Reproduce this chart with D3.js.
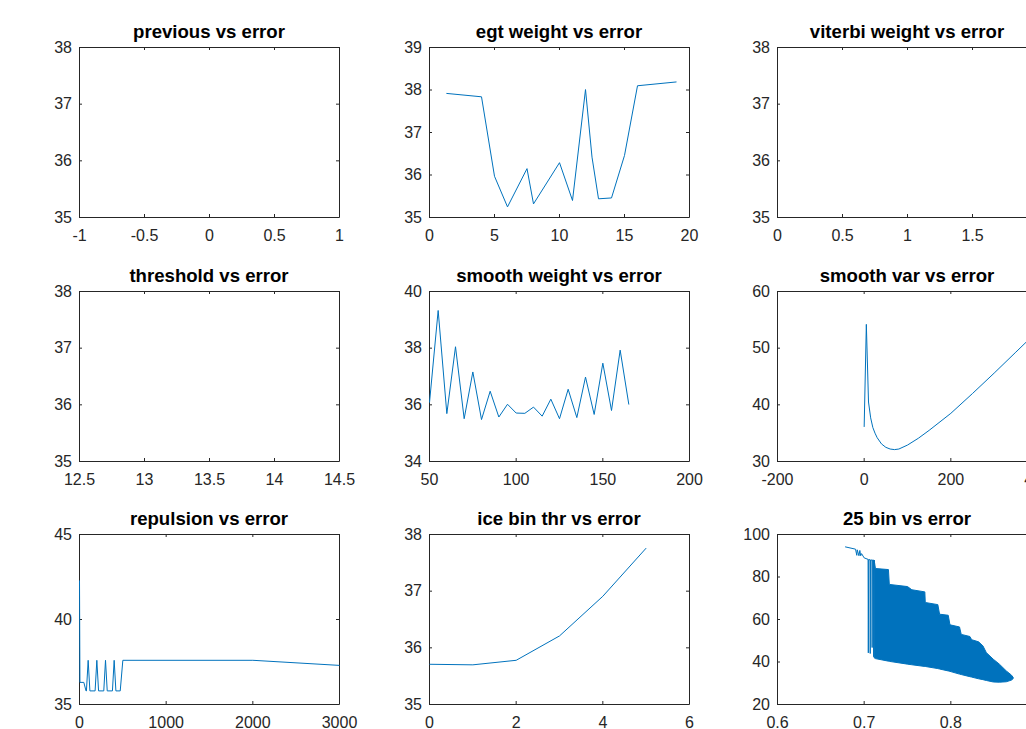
<!DOCTYPE html>
<html>
<head>
<meta charset="utf-8">
<script src="https://cdn.jsdelivr.net/npm/d3@7"></script>
<style>
    body { margin: 0; background: #fff; overflow: hidden; }
    svg { display: block; font-family: "Liberation Sans", Arial, Helvetica, sans-serif; }
</style>
</head>
<body>
<div id="fig"></div>
<script>
// panel titles, row by row
var titles = ["previous vs error", "egt weight vs error", "viterbi weight vs error",
    "threshold vs error", "smooth weight vs error", "smooth var vs error",
    "repulsion vs error", "ice bin thr vs error", "25 bin vs error"];

// tick values per panel
var prevXTicks = [-1, -0.5, 0, 0.5, 1];
var egtXTicks = [0, 5, 10, 15, 20];
var vitXTicks = [0, 0.5, 1, 1.5, 2];
var thrXTicks = [12.5, 13, 13.5, 14, 14.5];
var swXTicks = [50, 100, 150, 200];
var svXTicks = [-200, 0, 200, 400];
var repXTicks = [0, 1000, 2000, 3000];
var iceXTicks = [0, 2, 4, 6];
var binXTicks = [0.6, 0.7, 0.8, 0.9];

var ticks35to38 = [35, 36, 37, 38];
var egtYTicks = [35, 36, 37, 38, 39];
var swYTicks = [34, 36, 38, 40];
var svYTicks = [30, 40, 50, 60];
var repYTicks = [35, 40, 45];
var binYTicks = [20, 40, 60, 80, 100];

// egt weight
var egtX = [1.3, 4, 5, 6, 7.5, 8, 10, 11, 12, 12.5, 13, 14, 15, 16, 19];
var egtY = [37.92, 37.84, 35.97, 35.25, 36.15, 35.32, 36.29, 35.40, 38.01, 36.42, 35.44, 35.46, 36.46, 38.10, 38.19];

// smooth weight
var swX = [50, 55, 60, 65, 70, 75, 80, 85, 90, 95, 100, 105, 110, 115, 120, 125, 130, 135, 140, 145, 150, 155, 160, 165];
var swY = [36.08, 39.33, 35.69, 38.05, 35.51, 37.16, 35.48, 36.48, 35.57, 36.02, 35.71, 35.70, 35.92, 35.60, 36.20, 35.51, 36.55, 35.55, 36.98, 35.66, 37.47, 35.80, 37.93, 36.01];

// smooth var
var svX = [0, 5, 10, 15, 20, 25, 30, 40, 50, 60, 70, 80, 100, 125, 150, 175, 200, 250, 300, 350, 400];
var svY = [36.1, 54.2, 40.5, 37.7, 36.0, 35.0, 34.2, 33.1, 32.5, 32.2, 32.1, 32.2, 32.9, 34.1, 35.5, 37.0, 38.5, 42.0, 45.6, 49.3, 53.0];

// repulsion
var repX = [0, 5, 50, 75, 80, 100, 120, 180, 200, 220, 280, 300, 320, 380, 400, 420, 470, 500, 2000, 3000];
var repY = [42.3, 36.3, 36.3, 35.8, 35.8, 37.6, 35.8, 35.8, 37.6, 35.8, 35.8, 37.6, 35.8, 35.8, 37.6, 35.8, 35.8, 37.6, 37.6, 37.3];

// ice bin thr
var iceX = [0, 1, 2, 3, 4, 5];
var iceY = [35.71, 35.70, 35.78, 36.21, 36.91, 37.76];

// 25 bin: leading trace, then the dense band (top / bottom envelope)
var binLeadX = [0.678, 0.690, 0.6915, 0.692, 0.694, 0.695, 0.696, 0.697, 0.700, 0.7045, 0.7048, 0.7052, 0.7068, 0.7070, 0.7073, 0.7090, 0.7092, 0.7095, 0.7108, 0.7110, 0.7115];
var binLeadY = [94.2, 93.1, 90.2, 92.8, 90.0, 92.5, 90.0, 91.0, 89.0, 88.3, 44.3, 88.2, 88.1, 44.0, 88.0, 88.0, 46.8, 88.0, 88.0, 42.5, 88.0];
var binX = [0.7115, 0.713, 0.728, 0.729, 0.750, 0.755, 0.770, 0.7705, 0.785, 0.787, 0.797, 0.799, 0.810, 0.812, 0.822, 0.824, 0.832, 0.837, 0.841, 0.849, 0.856, 0.864, 0.870, 0.872];
var binTop = [88, 84, 83.5, 76.5, 75.5, 74, 73, 68, 67, 62.5, 62, 57.5, 56.5, 53, 52, 50.5, 49.5, 47.6, 44.4, 41.3, 39, 35.8, 33.8, 32.7];
var binBottom = [42, 41.6, 40.4, 40.3, 39, 38.7, 37.9, 37.9, 36.9, 36.7, 35.8, 35.6, 34.3, 34.1, 33.1, 32.9, 32.1, 31.7, 31.3, 30.6, 30.5, 30.7, 31.5, 32.2];

var lineColor = "#0072BD";
var axisColor = "#262626";

var width = 1026;
var height = 729;
var colLeft = [79, 429, 777];
var rowTop = [47, 291, 534];
var plotW = 260;
var plotH = 170;

var svg = d3.select('#fig')
    .append('svg')
    .attr('width', width)
    .attr('height', height);

svg.append('rect').attr('width', width).attr('height', height).attr('fill', '#fff');

function drawLine(g, x, y, xs, ys) {
    var pts = xs.map((d, i) => [d, ys[i]]);
    g.append('path')
        .datum(pts)
        .attr('fill', 'none')
        .attr('stroke', lineColor)
        .attr('stroke-width', 1)
        .attr('d', d3.line().x(d => x(d[0])).y(d => y(d[1])));
}

var panels = [
    { xDomain: [-1, 1], yDomain: [35, 38], xTicks: prevXTicks, yTicks: ticks35to38 },
    { xDomain: [0, 20], yDomain: [35, 39], xTicks: egtXTicks, yTicks: egtYTicks,
        draw: (g, x, y) => drawLine(g, x, y, egtX, egtY) },
    { xDomain: [0, 2], yDomain: [35, 38], xTicks: vitXTicks, yTicks: ticks35to38 },
    { xDomain: [12.5, 14.5], yDomain: [35, 38], xTicks: thrXTicks, yTicks: ticks35to38 },
    { xDomain: [50, 200], yDomain: [34, 40], xTicks: swXTicks, yTicks: swYTicks,
        draw: (g, x, y) => drawLine(g, x, y, swX, swY) },
    { xDomain: [-200, 400], yDomain: [30, 60], xTicks: svXTicks, yTicks: svYTicks,
        draw: (g, x, y) => drawLine(g, x, y, svX, svY) },
    { xDomain: [0, 3000], yDomain: [35, 45], xTicks: repXTicks, yTicks: repYTicks,
        draw: (g, x, y) => drawLine(g, x, y, repX, repY) },
    { xDomain: [0, 6], yDomain: [35, 38], xTicks: iceXTicks, yTicks: ticks35to38,
        draw: (g, x, y) => drawLine(g, x, y, iceX, iceY) },
    { xDomain: [0.6, 0.9], yDomain: [20, 100], xTicks: binXTicks, yTicks: binYTicks,
        draw: function (g, x, y) {
            drawLine(g, x, y, binLeadX, binLeadY);
            var band = binX.map((d, i) => ({ x: d, hi: binTop[i], lo: binBottom[i] }));
            g.append('path')
                .datum(band)
                .attr('fill', lineColor)
                .attr('stroke', lineColor)
                .attr('stroke-width', 1)
                .attr('d', d3.area().x(d => x(d.x)).y0(d => y(d.lo)).y1(d => y(d.hi)));
        } }
];

function styleAxis(sel) {
    sel.attr('font-family', null).attr('font-size', 16);
    sel.selectAll('path, line').attr('stroke', axisColor);
    sel.selectAll('text').attr('fill', axisColor);
}

panels.forEach(function (p, i) {
    var row = Math.floor(i / 3), col = i % 3;
    var g = svg.append('g')
        .attr('transform', 'translate(' + colLeft[col] + ',' + rowTop[row] + ')');

    var xs = d3.scaleLinear().domain(p.xDomain).range([0, plotW]);
    var ys = d3.scaleLinear().domain(p.yDomain).range([plotH, 0]);

    g.append('g')
        .attr('transform', 'translate(0,' + plotH + ')')
        .call(d3.axisBottom(xs).tickValues(p.xTicks).tickSizeInner(-3).tickSizeOuter(0)
            .tickPadding(13).tickFormat(d => String(d)))
        .call(styleAxis);
    g.append('g')
        .call(d3.axisTop(xs).tickValues(p.xTicks).tickSizeInner(-3).tickSizeOuter(0).tickFormat(''))
        .call(styleAxis);
    g.append('g')
        .call(d3.axisLeft(ys).tickValues(p.yTicks).tickSizeInner(-3).tickSizeOuter(0)
            .tickPadding(7).tickFormat(d => String(d)))
        .call(styleAxis);
    g.append('g')
        .attr('transform', 'translate(' + plotW + ',0)')
        .call(d3.axisRight(ys).tickValues(p.yTicks).tickSizeInner(-3).tickSizeOuter(0).tickFormat(''))
        .call(styleAxis);

    // data on top of the box, clipped to the axes
    var x = d3.scaleLinear().domain(p.xDomain).range([0.5, plotW + 0.5]);
    var y = d3.scaleLinear().domain(p.yDomain).range([plotH + 0.5, 0.5]);

    g.append('clipPath').attr('id', 'clip' + i)
        .append('rect').attr('x', 0).attr('y', 0).attr('width', plotW + 1).attr('height', plotH + 1);

    var plot = g.append('g').attr('clip-path', 'url(#clip' + i + ')');
    if (p.draw) p.draw(plot, x, y);

    g.append('text')
        .attr('x', plotW / 2)
        .attr('y', -9)
        .attr('text-anchor', 'middle')
        .attr('font-weight', 'bold')
        .attr('font-size', 18.6)
        .attr('fill', '#000')
        .text(titles[i]);
});
</script>
</body>
</html>
